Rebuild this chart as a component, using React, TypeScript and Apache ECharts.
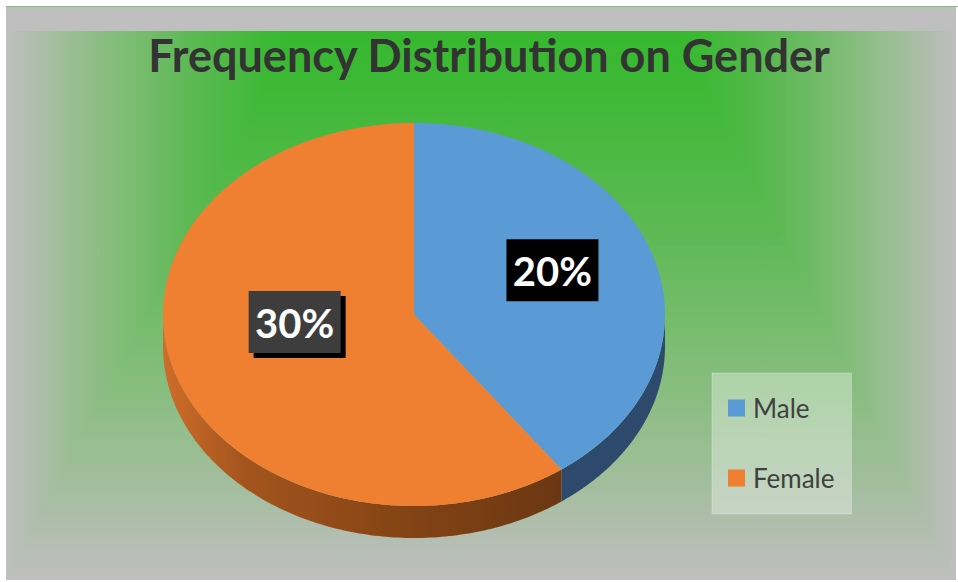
import React, { useEffect, useRef } from 'react';
import * as echarts from 'echarts';

// ---- data ----
const categories: string[] = ['Male', 'Female'];
const values: number[] = [20, 30];
const labelSuffix = '%';
const titleText = 'Frequency Distribution on Gender';

// ---- styles / layout ----
const topColors = ['#5b9bd5', '#ef7f31'];
const wallFills: any[] = [
  '#2d4a6c',
  {
    type: 'linear', x: 0, y: 0, x2: 1, y2: 0,
    colorStops: [
      { offset: 0, color: '#cf6d2a' },
      { offset: 0.2, color: '#a4551e' },
      { offset: 0.6, color: '#844414' },
      { offset: 1, color: '#6b3713' },
    ],
  },
];
const labelBoxColors = ['#000000', '#3d3d3d'];
const labelShadow = [false, true];
const labelFrac = [0.58, 0.5];
const labelNudgeY = [-10, -22];

const CX = 414;
const CY = 314.5;
const RX = 251;
const RY = 191.5;
const DEPTH = 32;

const bgStops = [
  { offset: 0, color: '#37b82f' },
  { offset: 0.1, color: '#3db935' },
  { offset: 0.35, color: '#5bb952' },
  { offset: 0.6, color: '#80bd77' },
  { offset: 0.8, color: '#9ebe98' },
  { offset: 0.93, color: '#b4beb2' },
  { offset: 1, color: '#bfbfbf' },
];

const AX0 = 6, AX1 = 956, AY0 = 31, AY1 = 580, ACX = 486, FOCUS = 190;

function makeRenderItem(idx: number) {
  return (params: any, api: any) => {
    const total = values.reduce((a, b) => a + b, 0);
    const before = values.slice(0, idx).reduce((a, b) => a + b, 0);
    const v = api.value(0);
    const a0 = (before / total) * Math.PI * 2;
    const a1 = ((before + v) / total) * Math.PI * 2;
    const pt = (a: number, dy = 0) => [CX + RX * Math.sin(a), CY - RY * Math.cos(a) + dy];
    const N = 140;
    const children: any[] = [];
    const w0 = Math.max(a0, Math.PI / 2);
    const w1 = Math.min(a1, (3 * Math.PI) / 2);
    if (w1 > w0) {
      const wall: number[][] = [];
      for (let k = 0; k <= N; k++) wall.push(pt(w0 + ((w1 - w0) * k) / N));
      for (let k = N; k >= 0; k--) wall.push(pt(w0 + ((w1 - w0) * k) / N, DEPTH));
      children.push({ type: 'polygon', shape: { points: wall }, style: { fill: wallFills[idx] } });
    }
    const top: number[][] = [[CX, CY]];
    for (let k = 0; k <= N; k++) top.push(pt(a0 + ((a1 - a0) * k) / N));
    children.push({ type: 'polygon', shape: { points: top }, style: { fill: topColors[idx] } });

    const mid = (a0 + a1) / 2;
    const lx = CX + RX * labelFrac[idx] * Math.sin(mid);
    const ly = CY - RY * labelFrac[idx] * Math.cos(mid) + labelNudgeY[idx];
    const bw = 92, bh = 62;
    if (labelShadow[idx]) {
      children.push({ type: 'rect', shape: { x: lx - bw / 2 + 5, y: ly - bh / 2 + 5, width: bw, height: bh }, style: { fill: '#000' } });
    }
    children.push({ type: 'rect', shape: { x: lx - bw / 2, y: ly - bh / 2, width: bw, height: bh }, style: { fill: labelBoxColors[idx] } });
    children.push({
      type: 'text', x: lx, y: ly + 1,
      style: { text: v + labelSuffix, fill: '#ffffff', font: 'bold 40px Lato', align: 'center', verticalAlign: 'middle' },
    });
    return { type: 'group', children };
  };
}

export default function App() {
  const ref = useRef<HTMLDivElement>(null);
  useEffect(() => {
    if (!ref.current) return;
    const chart = echarts.init(ref.current, null, { renderer: 'svg' });
    const option: any = {
      animation: false,
      backgroundColor: '#ffffff',
      graphic: [
        { type: 'rect', z: 0, shape: { x: AX0, y: 7, width: AX1 - AX0, height: AY1 - 7 }, style: { fill: '#bfbfbf' } },
        { type: 'line', z: 0, shape: { x1: AX0, y1: 6.5, x2: 958, y2: 6.5 }, style: { stroke: '#7cc27a', lineWidth: 1 } },
        {
          type: 'rect', z: 0, shape: { x: AX0, y: AY0, width: AX1 - AX0, height: AY1 - AY0 },
          style: { fill: { type: 'linear', x: 0, y: 0, x2: 0, y2: 1, colorStops: bgStops } },
        },
        {
          type: 'polygon', z: 0, shape: { points: [[ACX - FOCUS, AY0], [AX0, AY0], [AX0, AY1]] },
          style: { fill: { type: 'linear', x: 1, y: 0, x2: 0, y2: 0, colorStops: bgStops } },
        },
        {
          type: 'polygon', z: 0, shape: { points: [[ACX + FOCUS, AY0], [AX1, AY0], [AX1, AY1]] },
          style: { fill: { type: 'linear', x: 0, y: 0, x2: 1, y2: 0, colorStops: bgStops } },
        },
        {
          type: 'text', z: 1, x: 489, y: 55,
          style: { text: titleText, font: 'bold 45px Lato', fill: '#333333', align: 'center', verticalAlign: 'middle' },
        },
      ],
      legend: {
        orient: 'vertical',
        left: 712,
        top: 373,
        icon: 'rect',
        itemWidth: 17,
        itemHeight: 17,
        itemGap: 44,
        selectedMode: false,
        padding: [22, 17, 23, 16],
        backgroundColor: 'rgba(255,255,255,0.34)',
        borderColor: 'rgba(255,255,255,0.25)',
        borderWidth: 1,
        textStyle: { fontFamily: 'Lato', fontSize: 26, color: '#404040', lineHeight: 26, padding: [0, 0, 0, 3] },
        data: categories.map((c, i) => ({ name: c, itemStyle: { color: topColors[i] } })),
      },
      series: categories.map((c, i) => ({
        type: 'custom',
        name: c,
        coordinateSystem: 'none',
        itemStyle: { color: topColors[i] },
        data: [values[i]],
        renderItem: makeRenderItem(i),
      })),
    };
    chart.setOption(option);
    return () => chart.dispose();
  }, []);
  return <div ref={ref} style={{ position: 'fixed', left: 0, top: 0, width: 958, height: 582 }} />;
}
